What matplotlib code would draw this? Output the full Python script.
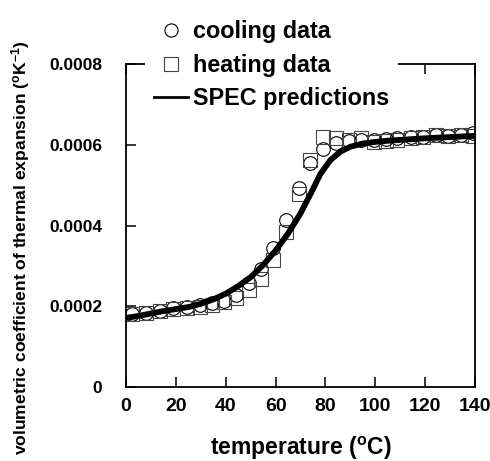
import matplotlib
matplotlib.use("Agg")
import matplotlib.pyplot as plt
from matplotlib.lines import Line2D

plt.rcParams['font.family'] = ['Liberation Sans', 'DejaVu Sans']
plt.rcParams['font.weight'] = 'bold'
plt.rcParams['mathtext.fontset'] = 'custom'
plt.rcParams['mathtext.rm'] = 'Liberation Sans:bold'
plt.rcParams['mathtext.bf'] = 'Liberation Sans:bold'
plt.rcParams['mathtext.it'] = 'Liberation Sans:bold'

# ---- data ----
temps = [2.4, 8.0, 13.5, 18.7, 24.3, 29.6, 34.4, 39.3, 44.2, 49.3, 54.3, 59.1,
         64.2, 69.3, 74.0, 79.0, 84.1, 89.4, 94.1, 99.5, 104.2, 108.9, 114.2,
         119.3, 124.3, 129.0, 134.4, 139.1]
cooling = [1.80, 1.84, 1.89, 1.95, 1.99, 2.03, 2.07, 2.13, 2.28, 2.57, 2.92, 3.44,
           4.14, 4.92, 5.54, 5.89, 6.04, 6.10, 6.12, 6.12, 6.14, 6.16, 6.18,
           6.20, 6.24, 6.22, 6.25, 6.28]
heating = [1.82, 1.84, 1.87, 1.92, 1.96, 1.99, 2.03, 2.10, 2.20, 2.40, 2.67, 3.15,
           3.83, 4.78, 5.62, 6.20, 6.16, 6.12, 6.16, 6.08, 6.10, 6.12, 6.16,
           6.20, 6.24, 6.22, 6.24, 6.22]
spec_t = [0, 5, 10, 15, 20, 25, 30, 35, 40, 45, 50, 55, 60, 65, 70, 75, 78, 82,
          86, 90, 95, 100, 105, 110, 120, 130, 140]
spec_v = [1.71, 1.76, 1.82, 1.88, 1.93, 1.98, 2.06, 2.17, 2.31, 2.50, 2.72, 3.02,
          3.38, 3.80, 4.30, 4.90, 5.28, 5.62, 5.83, 5.95, 6.03, 6.07, 6.10, 6.12,
          6.16, 6.19, 6.22]
scale = 1e-4
xticks = [0, 20, 40, 60, 80, 100, 120, 140]
yticks = [0, 0.0002, 0.0004, 0.0006, 0.0008]
ytick_labels = ['0', '0.0002', '0.0004', '0.0006', '0.0008']

fig = plt.figure(figsize=(4.9, 4.61), dpi=100)
ax = fig.add_axes([126/490, 1-387/461, 349/490, 323/461])

ax.plot(temps, [v*scale for v in cooling], linestyle='none', marker='o',
        markersize=9.8, markerfacecolor='none', markeredgecolor='black',
        markeredgewidth=0.8, zorder=2)
ax.plot(temps, [v*scale for v in heating], linestyle='none', marker='s',
        markersize=9.5, markerfacecolor='none', markeredgecolor='#444444',
        markeredgewidth=0.8, zorder=2)
ax.plot(spec_t, [v*scale for v in spec_v], color='black', lw=4.2, zorder=3)

ax.set_xlim(0, 140)
ax.set_ylim(0, 0.0008)
ax.set_xticks(xticks)
ax.set_xticklabels([str(t) for t in xticks])
ax.set_yticks(yticks)
ax.set_yticklabels(ytick_labels)
ax.tick_params(direction='in', length=7, width=1.1, top=True, right=False)
ax.tick_params(axis='x', pad=8, labelsize=14)
ax.tick_params(axis='y', pad=17, labelsize=12.5)
for s in ax.spines.values():
    s.set_linewidth(1.3)

ax.set_xlabel(r'temperature ($^{\mathbf{o}}$C)', fontsize=16.5, fontweight='bold',
              labelpad=14)
ax.set_ylabel(r'volumetric coefficient of thermal expansion ($^{\mathbf{o}}$K$^{\mathbf{-1}}$)',
              fontsize=12.6, fontweight='bold')
ax.yaxis.set_label_coords(-0.269, 0.43)

handles = [
    Line2D([], [], linestyle='none', marker='o', markersize=9.5,
           markerfacecolor='none', markeredgecolor='black', markeredgewidth=0.8),
    Line2D([], [], linestyle='none', marker='s', markersize=9.5,
           markerfacecolor='none', markeredgecolor='#444444', markeredgewidth=0.8),
    Line2D([], [], color='black', lw=2),
]
labels = ['cooling data', 'heating data', 'SPEC predictions']
leg = fig.legend(handles, labels, loc='upper left',
                 bbox_to_anchor=(145/490, 1-11/461), prop={'size': 16.8, 'weight': 'bold'},
                 frameon=True, fancybox=False, edgecolor='none', facecolor='white',
                 framealpha=1, handlelength=1.45, handletextpad=0.2,
                 labelspacing=0.45, borderpad=0.4, borderaxespad=0)

fig.savefig('out.png', dpi=100)
